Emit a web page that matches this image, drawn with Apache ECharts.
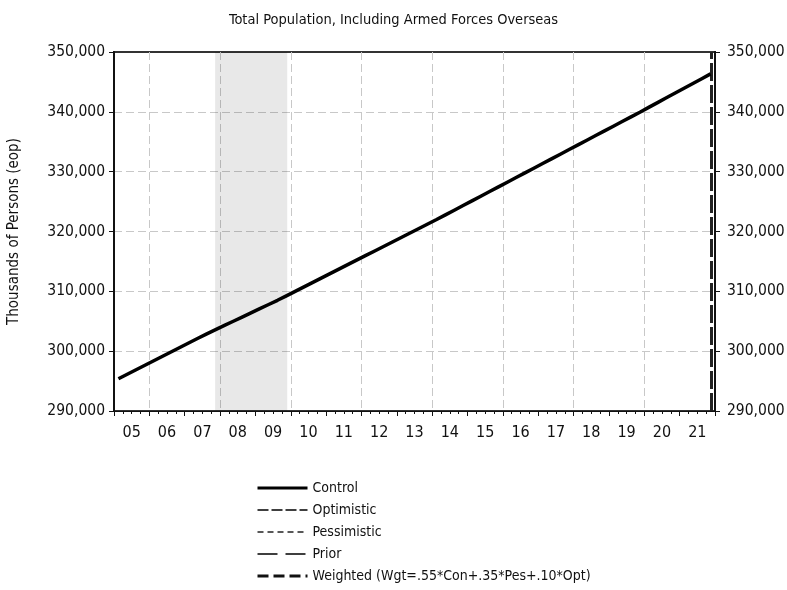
<!DOCTYPE html>
<html>
<head>
<meta charset="utf-8">
<script src="https://cdn.jsdelivr.net/npm/echarts@6/dist/echarts.min.js"></script>
<style>
  html, body { margin: 0; padding: 0; background: #fff; }
  #main { width: 787px; height: 590px; }
</style>
</head>
<body>
<div id="main"></div>
<script>
// quarterly data, 2005Q1 .. 2021Q4 (plotted at the middle of each quarter)
var quarters = [];
for (var y = 2005; y <= 2021; y++) {
    for (var q = 0; q < 4; q++) quarters.push(y + q * 0.25 + 0.125);
}
var control = [
    295400, 296150, 296900, 297650,
    298400, 299150, 299900, 300650,
    301400, 302150, 302900, 303600,
    304300, 305000, 305700, 306400,
    307100, 307800, 308500, 309250,
    310000, 310750, 311500, 312250,
    313000, 313750, 314500, 315250,
    316000, 316750, 317500, 318250,
    319000, 319750, 320500, 321250,
    322000, 322780, 323560, 324340,
    325120, 325900, 326680, 327460,
    328240, 329020, 329800, 330580,
    331360, 332140, 332920, 333700,
    334480, 335260, 336040, 336820,
    337600, 338380, 339160, 339940,
    340740, 341540, 342340, 343140,
    343940, 344740, 345540, 346340
];
var yearLabels = ['05', '06', '07', '08', '09', '10', '11', '12', '13', '14', '15', '16', '17', '18', '19', '20', '21'];
var recession = [2007.86, 2009.9];
var weightedAt = 2021.875;

var font = "'Liberation Sans Narrow', 'DejaVu Sans Condensed', 'Liberation Sans', sans-serif";
var weightedName = 'Weighted (Wgt=.55*Con+.35*Pes+.10*Opt)';

var myChart = echarts.init(document.getElementById('main'));

function pairs(xs, vs) {
    return vs.map(function (v, i) { return [xs[i], v]; });
}

var option = {
    animation: false,
    title: {
        text: 'Total Population, Including Armed Forces Overseas',
        left: 'center',
        top: 8,
        textStyle: { fontFamily: font, fontWeight: 'normal', fontSize: 14.5, color: '#111' }
    },
    grid: {
        left: 114, right: 72, top: 52, bottom: 179,
        outerBoundsMode: 'none',
        show: true, borderColor: '#333', borderWidth: 2
    },
    legend: {
        orient: 'vertical',
        left: 251,
        top: 476,
        itemWidth: 50,
        itemHeight: 14,
        itemGap: 8,
        itemStyle: { opacity: 0 },
        textStyle: { fontFamily: font, fontSize: 14, color: '#111' },
        data: [
            { name: 'Control', lineStyle: { width: 3, color: '#000' } },
            { name: 'Optimistic', lineStyle: { width: 1.3, color: '#000', type: [11, 3] } },
            { name: 'Pessimistic', lineStyle: { width: 1.3, color: '#222', type: [6, 4] } },
            { name: 'Prior', lineStyle: { width: 1.3, color: '#000', type: [20, 8] } },
            { name: weightedName, lineStyle: { width: 3, color: '#111', type: [11, 5] } }
        ]
    },
    xAxis: [
        {
            type: 'value',
            min: 2005,
            max: 2022,
            interval: 1,
            axisLine: { lineStyle: { color: '#111', width: 1 } },
            axisTick: { length: 5, lineStyle: { color: '#111' } },
            minorTick: { show: true, splitNumber: 4, length: 3, lineStyle: { color: '#111' } },
            axisLabel: { show: false },
            splitLine: { show: false }
        },
        {
            type: 'category',
            position: 'bottom',
            data: yearLabels,
            boundaryGap: true,
            axisLine: { show: false },
            axisTick: { show: false },
            axisLabel: { margin: 14, fontFamily: font, fontSize: 16, color: '#111' },
            splitLine: {
                show: true,
                interval: function (i) { return i % 2 === 1; },
                lineStyle: { color: '#c8c8c8', type: [8, 4], width: 1 }
            }
        }
    ],
    yAxis: [
        {
            type: 'value',
            min: 290000,
            max: 350000,
            interval: 10000,
            name: 'Thousands of Persons (eop)',
            nameLocation: 'middle',
            nameGap: 92,
            nameTextStyle: { fontFamily: font, fontSize: 15, color: '#111' },
            axisLine: { show: true, lineStyle: { color: '#111', width: 2 } },
            axisTick: { show: true, length: 5, lineStyle: { color: '#111' } },
            axisLabel: {
                margin: 9, fontFamily: font, fontSize: 15.5, color: '#111',
                formatter: function (v) { return v.toLocaleString('en-US'); }
            },
            splitLine: {
                showMaxLine: false, showMinLine: false,
                lineStyle: { color: '#c8c8c8', type: [8, 4], width: 1 }
            }
        },
        {
            type: 'value',
            position: 'right',
            min: 290000,
            max: 350000,
            interval: 10000,
            axisLine: { show: true, lineStyle: { color: '#111', width: 2 } },
            axisTick: { show: true, length: 5, lineStyle: { color: '#111' } },
            axisLabel: {
                margin: 12, fontFamily: font, fontSize: 15.5, color: '#111',
                formatter: function (v) { return v.toLocaleString('en-US'); }
            },
            splitLine: { show: false }
        }
    ],
    series: [
        {
            name: 'Control',
            type: 'line',
            symbol: 'none',
            data: pairs(quarters, control),
            lineStyle: { color: '#000', width: 3.5 },
            itemStyle: { color: '#000' },
            z: 5,
            markArea: {
                silent: true,
                itemStyle: { color: 'rgba(0,0,0,0.09)' },
                data: [[{ xAxis: recession[0] }, { xAxis: recession[1] }]]
            }
        },
        {
            name: 'Optimistic',
            type: 'line',
            symbol: 'none',
            data: [],
            lineStyle: { color: '#000', width: 1.3, type: [11, 3] },
            itemStyle: { color: '#000' }
        },
        {
            name: 'Pessimistic',
            type: 'line',
            symbol: 'none',
            data: [],
            lineStyle: { color: '#222', width: 1.3, type: [6, 4] },
            itemStyle: { color: '#222' }
        },
        {
            name: 'Prior',
            type: 'line',
            symbol: 'none',
            data: [],
            lineStyle: { color: '#000', width: 1.3, type: [20, 8] },
            itemStyle: { color: '#000' }
        },
        {
            name: weightedName,
            type: 'line',
            symbol: 'none',
            data: [],
            lineStyle: { color: '#111', width: 3, type: [11, 5] },
            itemStyle: { color: '#111' },
            markLine: {
                silent: true,
                symbol: 'none',
                label: { show: false },
                lineStyle: { color: '#222', width: 3, type: [18, 4] },
                data: [{ xAxis: weightedAt }]
            }
        }
    ]
};

myChart.setOption(option);
</script>
</body>
</html>
